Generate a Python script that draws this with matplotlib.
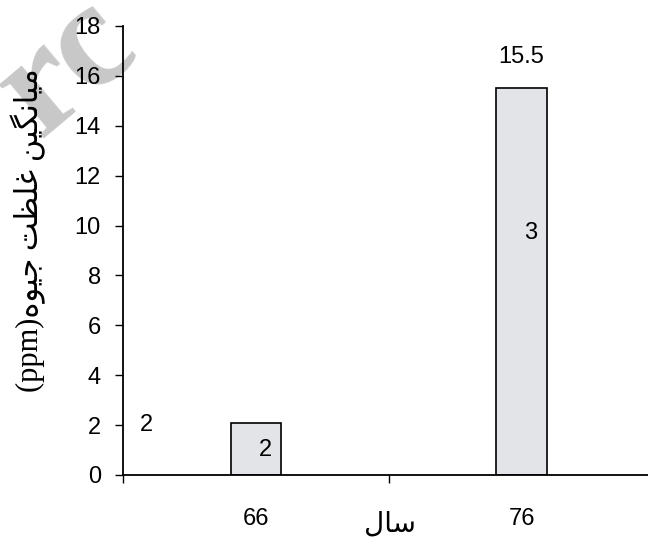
import matplotlib
matplotlib.use('Agg')
import matplotlib.pyplot as plt

# data
years = ['66', '76']
values = [2.1, 15.5]
bar_labels = ['2', '3']          # numbers printed inside the bars
bar_label_y = [1.0, 9.7]
top_labels = ['', '15.5']         # numbers printed above the bars
outside_label = '2'               # stray label near the y axis

# Persian text, written in presentation forms (visual order) since matplotlib does no shaping
ylabel_text = ('(ppm)' + '\uFEE9\uFEEE\uFBFF\uFE9F' + ' ' + '\uFE96\uFEC8\uFEE0\uFECF'
               + ' ' + '\uFEE6\uFBFF\uFB95\uFEE7\uFE8E\uFBFF\uFEE3')
xlabel_text = '\uFEDD\uFE8E\uFEB3'

plt.rcParams['font.family'] = ['Liberation Sans', 'DejaVu Sans']

fig = plt.figure(figsize=(6.48, 5.4), dpi=100)
ax = fig.add_axes([0.19, 0.1204, 0.82, 0.8315])
ax.set_facecolor('none')

x = list(range(len(years)))
ax.bar(x, values, width=0.19, color='#e3e4e7', edgecolor='black', linewidth=1.2, zorder=2)

for i in x:
    ax.text(i + 0.035, bar_label_y[i], bar_labels[i], fontsize=17, ha='center', va='center')
    if top_labels[i]:
        ax.text(i, values[i] + 1.25, top_labels[i], fontsize=17, ha='center', va='center')
ax.text(-0.413, 2.0, outside_label, fontsize=17, ha='center', va='center')

ax.set_xlim(-0.5, 1.5)
ax.set_ylim(0, 18)
ax.set_yticks(range(0, 19, 2))
ax.tick_params(axis='y', direction='out', length=6, width=1, labelsize=17, pad=10)

# ticks sit between categories, labels sit on the categories
ax.set_xticks([-0.5, 0.5, 1.5])
ax.set_xticklabels(['', '', ''])
ax.set_xticks(x, minor=True)
ax.set_xticklabels(years, minor=True)
ax.tick_params(axis='x', which='major', direction='out', length=6, width=1)
ax.tick_params(axis='x', which='minor', length=0, labelsize=17, pad=24)

for side in ['top', 'right']:
    ax.spines[side].set_visible(False)
for side in ['left', 'bottom']:
    ax.spines[side].set_linewidth(1.3)

fig.text(0.602, 0.03, xlabel_text, fontsize=20, ha='center', va='center',
         family=['DejaVu Sans'])
fig.text(0.043, 0.573, ylabel_text, fontsize=22, rotation=90, ha='center', va='center',
         family=['Liberation Serif', 'DejaVu Sans'])

# faint watermark in the top-left corner, behind everything
fig.text(0.105, 0.875, 'rc', fontsize=110, color='#c8c8c8', rotation=40,
         fontweight='bold', ha='center', va='center',
         family=['Liberation Serif'], zorder=-1)

fig.savefig('out.png', dpi=100)
